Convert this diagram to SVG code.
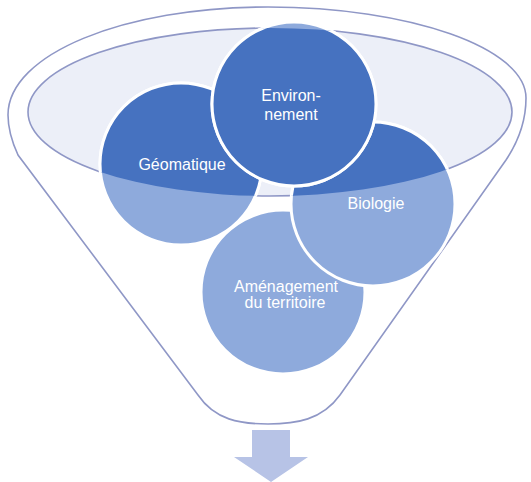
<svg xmlns="http://www.w3.org/2000/svg" width="531" height="482" viewBox="0 0 531 482">
<style>
.rim{fill:#ffffff;stroke:#8f97c6;stroke-width:1.6}
.bowl{fill:#eceff8;stroke:#8f97c6;stroke-width:1.6}
.light{fill:#8eaadc;stroke:#ffffff;stroke-width:3}
.dark{fill:#4672c0;stroke:#ffffff;stroke-width:3}
.lbl{font-family:"Liberation Sans",Arial,sans-serif;font-size:16px;fill:#ffffff;text-anchor:middle}
</style>
<defs>
<clipPath id="bowlclip"><ellipse cx="270" cy="112" rx="242" ry="84"/></clipPath>
</defs>
<g id="funnel">
<path class="rim" d="M198,395 L18,155 C12,142 8,130 8,115 C8,54 124,7 268,7 C410,7 526,48 526,98 C526,120 518,142 506,160 L340,395 C322,420 296,424 268,424 C240,424 215,420 198,395 Z"/>
<ellipse class="bowl" cx="270" cy="112" rx="242" ry="84"/>
</g>
<g id="geomatique">
<circle class="light" cx="181" cy="164" r="81"/>
<circle class="dark" cx="181" cy="164" r="81" clip-path="url(#bowlclip)"/>
<text class="lbl" x="182" y="170">Géomatique</text>
</g>
<g id="amenagement">
<circle class="light" cx="283" cy="292" r="82"/>
<circle class="dark" cx="283" cy="292" r="82" clip-path="url(#bowlclip)"/>
<text class="lbl" x="286" y="292">Aménagement</text>
<text class="lbl" x="285" y="308">du territoire</text>
</g>
<g id="biologie">
<circle class="light" cx="373" cy="204" r="82"/>
<circle class="dark" cx="373" cy="204" r="82" clip-path="url(#bowlclip)"/>
<text class="lbl" x="376" y="209">Biologie</text>
</g>
<g id="environnement">
<circle class="light" cx="294" cy="104" r="82"/>
<circle class="dark" cx="294" cy="104" r="82" clip-path="url(#bowlclip)"/>
<text class="lbl" x="291" y="101">Environ-</text>
<text class="lbl" x="291" y="120">nement</text>
</g>
<g id="connectors">
<path d="M252,430 L290,430 L290,457 L308,457 L271,482 L234,457 L252,457 Z" fill="#b7c3e6"/>
</g>
</svg>
